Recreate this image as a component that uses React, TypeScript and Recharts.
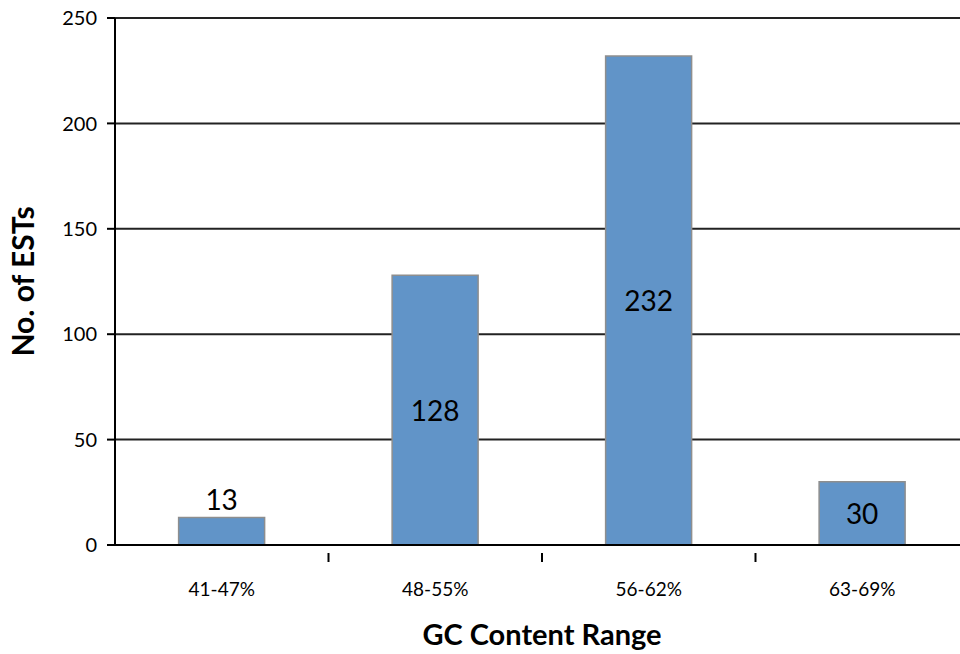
import React from 'react';
import { BarChart, Bar, XAxis, YAxis, CartesianGrid, LabelList } from 'recharts';

const ranges = ['41-47%', '48-55%', '56-62%', '63-69%'];
const estCounts = [13, 128, 232, 30];
const yTicks = [0, 50, 100, 150, 200, 250];

const data = ranges.map((range, i) => ({ range, count: estCounts[i] }));

const WIDTH = 960;
const HEIGHT = 654;
// plot runs a little past the right edge of the frame
const MARGIN = { top: 18, right: -9, bottom: 0, left: 55 };
const X_AXIS_HEIGHT = 109;
const Y_AXIS_WIDTH = 60;
const PLOT_WIDTH = WIDTH - MARGIN.left - MARGIN.right - Y_AXIS_WIDTH;
const BAND = PLOT_WIDTH / ranges.length;
const FONT = 'Lato, "Open Sans", sans-serif';

// Category label in the middle, tick marks on the band boundaries
const GcTick = (props: any) => {
  const { x, y, payload, index } = props;
  const right = x + BAND / 2;
  return (
    <g>
      {index < ranges.length - 1 && (
        <line x1={right} x2={right} y1={y} y2={y + 9} stroke="#000" strokeWidth={2} />
      )}
      <text x={x} y={y + 38} textAnchor="middle" dominantBaseline="middle" fontSize={19} fontFamily={FONT} fill="#000">
        {payload.value}
      </text>
    </g>
  );
};

// Short bars get their value above, taller ones inside
const CountLabel = (props: any) => {
  const { x, y, width, height, value } = props;
  const cx = x + width / 2;
  const inside = height > 50;
  const ty = inside ? y + height / 2 : y - 19;
  return (
    <text x={cx} y={ty} textAnchor="middle" dominantBaseline="central" fontSize={28} fontFamily={FONT} fill="#000">
      {value}
    </text>
  );
};

export default function App() {
  return (
    <div style={{ position: 'absolute', left: 0, top: 0, width: WIDTH, height: HEIGHT, background: '#fff', overflow: 'hidden' }}>
      <BarChart width={WIDTH} height={HEIGHT} data={data} margin={MARGIN} barCategoryGap="29.8%">
        <CartesianGrid vertical={false} stroke="#222" strokeWidth={2} />
        <XAxis
          dataKey="range"
          height={X_AXIS_HEIGHT}
          axisLine={{ stroke: '#000', strokeWidth: 2 }}
          tickLine={false}
          tick={<GcTick />}
          interval={0}
          label={{ value: 'GC Content Range', position: 'insideBottom', offset: 9, fontSize: 29, fontWeight: 'bold', fontFamily: FONT, fill: '#000' }}
        />
        <YAxis
          width={Y_AXIS_WIDTH}
          domain={[0, 250]}
          ticks={yTicks}
          interval={0}
          axisLine={{ stroke: '#000', strokeWidth: 2 }}
          tickLine={{ stroke: '#000', strokeWidth: 2 }}
          tickSize={8}
          tickMargin={10}
          tick={{ fontSize: 20, fontFamily: FONT, fill: '#000' }}
          label={{ value: 'No. of ESTs', angle: -90, position: 'center', dx: -62, fontSize: 30, fontWeight: 'bold', fontFamily: FONT, fill: '#000' }}
        />
        <Bar dataKey="count" fill="#6194C8" stroke="#8e8e8e" strokeWidth={1.5} isAnimationActive={false}>
          <LabelList dataKey="count" content={<CountLabel />} />
        </Bar>
      </BarChart>
    </div>
  );
}
